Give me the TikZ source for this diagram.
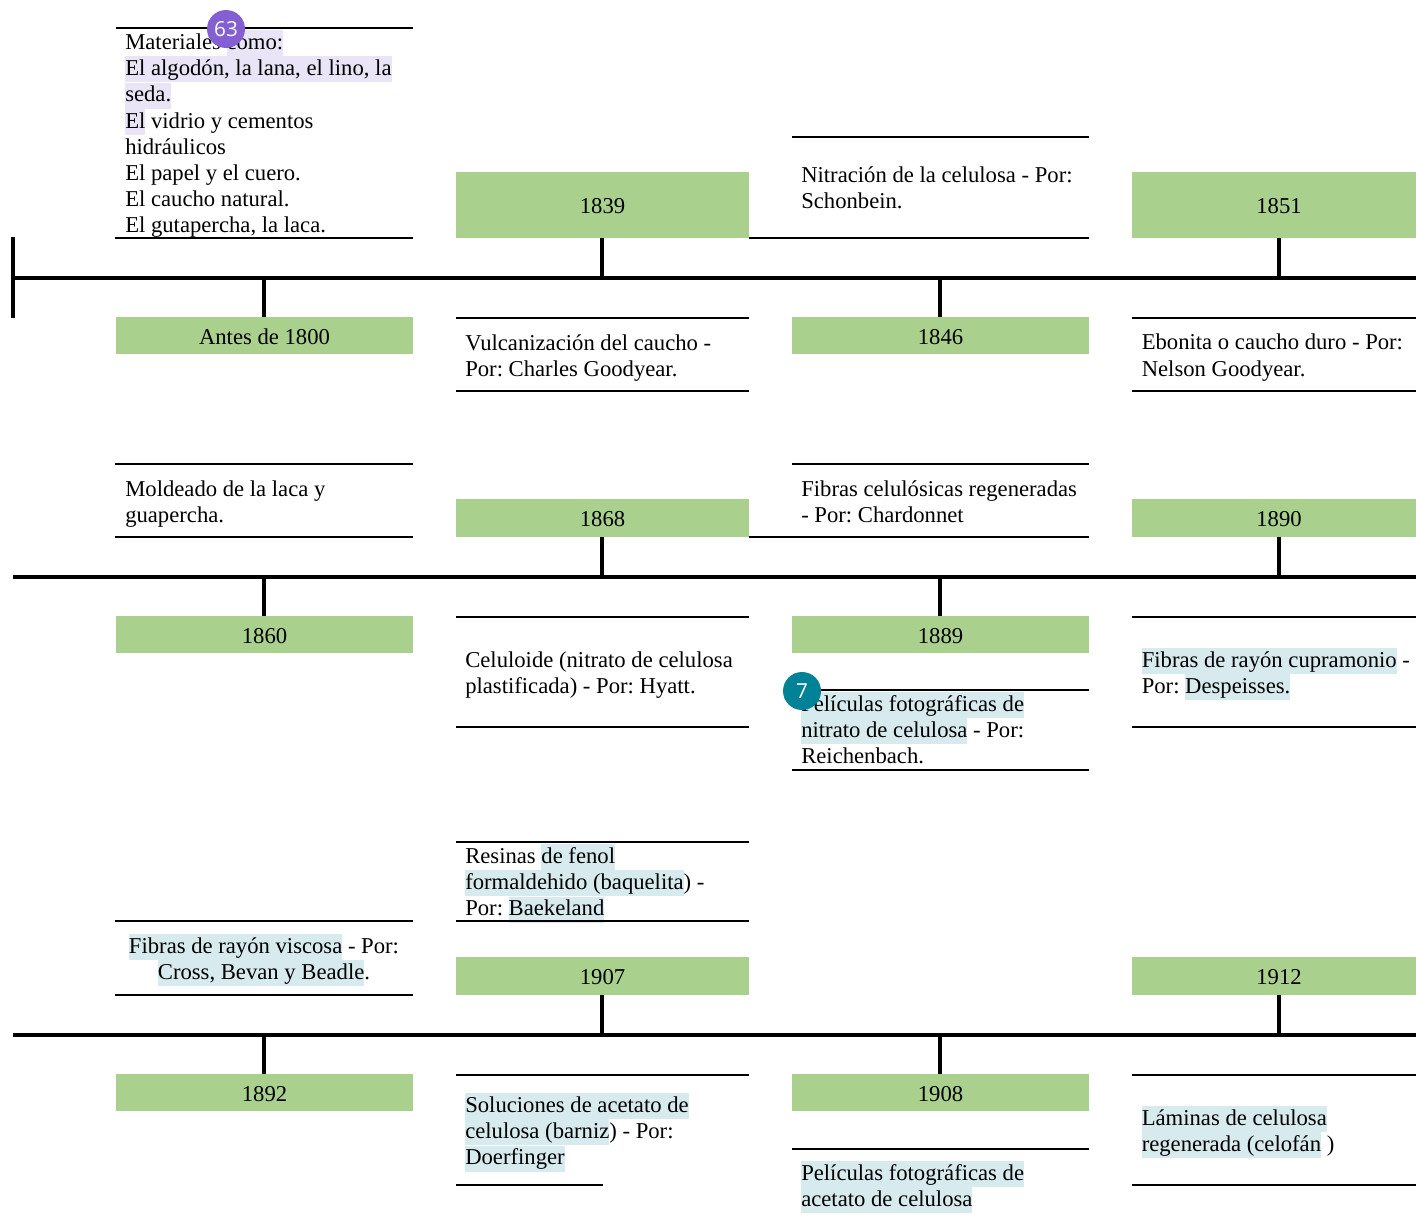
\documentclass[tikz,border=0pt]{standalone}
\usepackage{fontspec}
\setmainfont{Liberation Serif}
\newfontfamily\badgefont{Open Sans}
\frenchspacing
\definecolor{yeargreen}{HTML}{AAD08E}
\definecolor{hllav}{HTML}{E9E5F7}
\definecolor{hlblue}{HTML}{D7EBEF}
\definecolor{badgepurple}{HTML}{845FD2}
\definecolor{badgeteal}{HTML}{008296}
\setlength{\fboxsep}{0pt}
\newcommand{\hlstrut}{\rule[-5pt]{0pt}{19.5pt}}
\newcommand{\hlL}[1]{\colorbox{hllav}{\hlstrut #1}}
\newcommand{\hlB}[1]{\colorbox{hlblue}{\hlstrut #1}}
\newcommand{\yearnode}[6]{%
  \node[yearbox, minimum width={(#4-#2)*0.75pt}, minimum height={(#5-#3)*0.75pt}] (#1) at ({(#2+#4)/2},{(#3+#5)/2}) {#6};}
\newcommand{\stemN}[2]{\draw[stemline] ([xshift=-0.375pt]#1.north)--([xshift=-0.375pt]#1.north |- #2);}
\newcommand{\stemS}[2]{\draw[stemline] ([xshift=-0.375pt]#1.south)--([xshift=-0.375pt]#1.south |- #2);}
\newcommand{\stemR}[2]{\draw[stemline] ([xshift=3.5pt]#1.south)--([xshift=3.5pt]#1.south |- #2);}
\tikzset{
  yearbox/.style={fill=yeargreen, inner sep=0pt, text height=13pt, text depth=0pt, font=\frenchspacing\fontsize{17}{19.6}\selectfont},
  cardtext/.style={anchor=north west, inner sep=0pt, align=left, font=\frenchspacing\fontsize{17}{19.6}\selectfont, execute at begin node=\rule{0pt}{14.5pt}},
  cardcenter/.style={cardtext, anchor=north, align=center},
  cardrule/.style={line width=1.5pt, black},
  axisline/.style={line width=3pt, black},
  stemline/.style={line width=3pt, black},
  badge/.style={circle, inner sep=0pt, minimum size=28.5pt, text=white, font=\badgefont\fontsize{15.5}{17}\selectfont},
}
\begin{document}
\begin{tikzpicture}[x=0.75pt,y=-0.75pt]
\useasboundingbox (0,0) rectangle (1416,1217);
% axes
\coordinate (a1l) at (13,278); \coordinate (a1r) at (1416,278);
\coordinate (a2l) at (13,577); \coordinate (a2r) at (1416,577);
\coordinate (a3l) at (13,1035); \coordinate (a3r) at (1416,1035);
\coordinate (tickt) at (13,237); \coordinate (tickb) at (13,318);
% year boxes
\yearnode{y1800}{116}{317}{413}{354}{Antes de 1800}
\yearnode{y1839}{456}{172}{749}{238}{1839}
\yearnode{y1846}{792}{317}{1089}{354}{1846}
\yearnode{y1851}{1132}{172}{1416}{238}{\hspace*{7.5pt}1851}
\yearnode{y1860}{116}{616}{413}{653}{1860}
\yearnode{y1868}{456}{499}{749}{537}{1868}
\yearnode{y1889}{792}{616}{1089}{653}{1889}
\yearnode{y1890}{1132}{499}{1416}{537}{\hspace*{7.5pt}1890}
\yearnode{y1892}{116}{1074}{413}{1111}{1892}
\yearnode{y1907}{456}{957}{749}{995}{1907}
\yearnode{y1908}{792}{1074}{1089}{1111}{1908}
\yearnode{y1912}{1132}{957}{1416}{995}{\hspace*{7.5pt}1912}
% card texts (top = first baseline - 19.33px)
\node[cardtext] (tMat) at (125,30) {Materiales \hlL{como:}\\\hlL{El algodón, la lana, el lino, la}\\\hlL{seda.}\\\hlL{El} vidrio y cementos\\hidráulicos\\El papel y el cuero.\\El caucho natural.\\El gutapercha, la laca.};
\node[cardtext] (tVul) at (465,334) {Vulcanización del caucho -\\Por: Charles Goodyear.};
\node[cardtext] (tNit) at (801,166) {Nitración de la celulosa - Por:\\Schonbein.};
\node[cardtext] (tEbo) at (1141.5,334) {Ebonita o caucho duro - Por:\\Nelson Goodyear.};
\node[cardtext] (tMol) at (125,480) {Moldeado de la laca y\\guapercha.};
\node[cardtext] (tFib) at (801,480) {Fibras celulósicas regeneradas\\- Por: Chardonnet};
\node[cardtext] (tCel) at (465,651) {Celuloide (nitrato de celulosa\\plastificada) - Por: Hyatt.};
\node[cardtext] (tPel) at (801,692) {\hlB{Películas fotográficas de}\\\hlB{nitrato de celulosa} - Por:\\Reichenbach.};
\node[cardtext] (tCup) at (1141.5,647.5) {\hlB{Fibras de rayón cupramonio} -\\Por: \hlB{Despeisses.}};
\node[cardcenter] (tVis) at (264,934) {\hlB{Fibras de rayón viscosa} - Por:\\\hlB{Cross, Bevan y Beadle}.};
\node[cardtext] (tRes) at (465,844) {Resinas \hlB{de fenol}\\\hlB{formaldehido (baquelita}) -\\Por: \hlB{Baekeland}};
\node[cardtext] (tSol) at (465,1093) {\hlB{Soluciones de acetato de}\\\hlB{celulosa (barniz}) - Por:\\\hlB{Doerfinger}};
\node[cardtext] (tAce) at (801,1161) {\hlB{Películas fotográficas de}\\\hlB{acetato de celulosa}};
\node[cardtext] (tLam) at (1141.5,1106) {\hlB{Láminas de celulosa}\\\hlB{regenerada (celofán} )};
% card rules
\draw[cardrule] (116,28)--(413,28);   \draw[cardrule] (115,238)--(413,238);
\draw[cardrule] (456,318)--(749,318); \draw[cardrule] (456,391)--(749,391);
\draw[cardrule] (792,137)--(1089,137);\draw[cardrule] (749,238)--(1089,238);
\draw[cardrule] (1132,318)--(1416,318);\draw[cardrule] (1132,391)--(1416,391);
\draw[cardrule] (115,464)--(413,464); \draw[cardrule] (115,537)--(413,537);
\draw[cardrule] (792,464)--(1089,464);\draw[cardrule] (749,537)--(1089,537);
\draw[cardrule] (456,617)--(749,617); \draw[cardrule] (456,727)--(749,727);
\draw[cardrule] (792,690)--(1089,690);\draw[cardrule] (792,770)--(1089,770);
\draw[cardrule] (1132,617)--(1416,617);\draw[cardrule] (1132,727)--(1416,727);
\draw[cardrule] (115,921)--(413,921); \draw[cardrule] (115,995)--(413,995);
\draw[cardrule] (456,842)--(749,842); \draw[cardrule] (456,921)--(749,921);
\draw[cardrule] (456,1075)--(749,1075);\draw[cardrule] (456,1185)--(603,1185);
\draw[cardrule] (792,1149)--(1089,1149);
\draw[cardrule] (1132,1075)--(1416,1075);\draw[cardrule] (1132,1185)--(1416,1185);
% axes and stems
\draw[axisline] (a1l)--(a1r);
\draw[axisline] (a2l)--(a2r);
\draw[axisline] (a3l)--(a3r);
\draw[axisline] (tickt)--(tickb);
\stemN{y1800}{a1l}
\stemS{y1839}{a1l}
\stemN{y1846}{a1l}
\stemR{y1851}{a1l}
\stemN{y1860}{a2l}
\stemS{y1868}{a2l}
\stemN{y1889}{a2l}
\stemR{y1890}{a2l}
\stemN{y1892}{a3l}
\stemS{y1907}{a3l}
\stemN{y1908}{a3l}
\stemR{y1912}{a3l}
% badges
\node[badge, fill=badgepurple] (b63) at (226,29) {63};
\node[badge, fill=badgeteal] (b7) at (802,691) {7};
\end{tikzpicture}
\end{document}
